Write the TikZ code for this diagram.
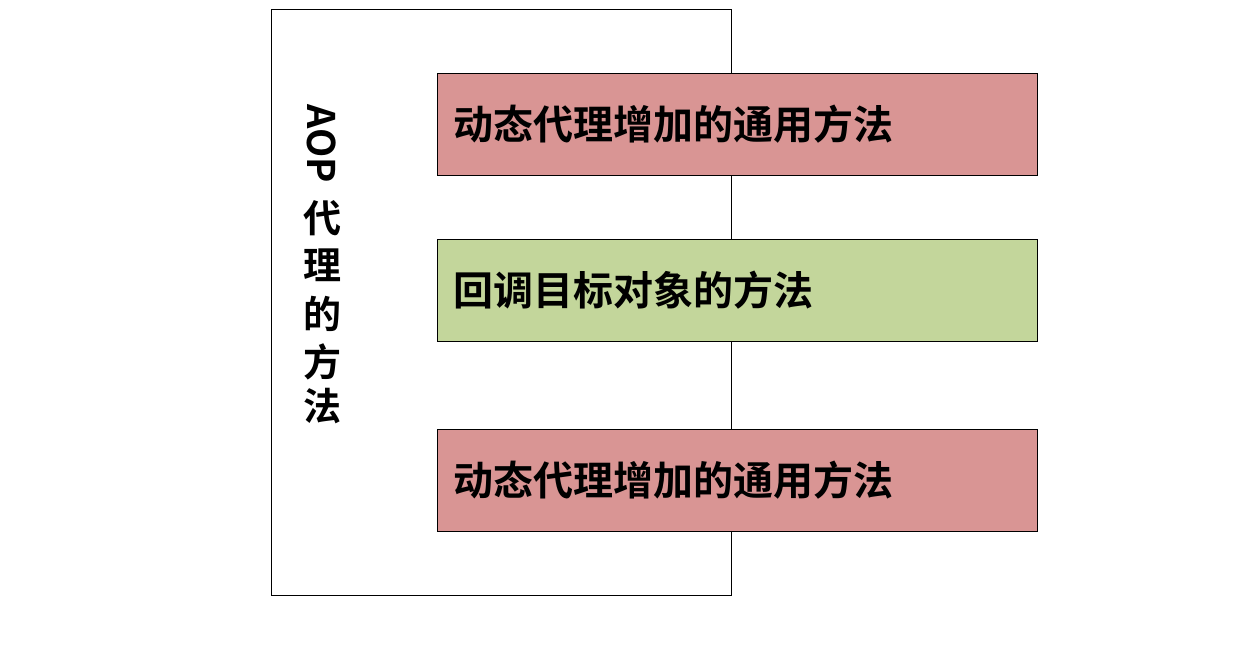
\documentclass[tikz,border=0pt]{standalone}
\usepackage{fontspec}
\newfontfamily\cjk{Noto Sans CJK SC}[BoldFont={* Bold}]
\begin{document}
\begin{tikzpicture}[x=1pt,y=-1pt,
  box/.style={draw=black,line width=0.8pt,minimum width=600pt,minimum height=102pt,anchor=north west,inner sep=0pt},
  lbl/.style={font=\cjk\bfseries\fontsize{40}{44}\selectfont,anchor=west,inner sep=0pt},
  vch/.style={font=\cjk\bfseries\fontsize{38}{42}\selectfont,inner sep=0pt}]
\useasboundingbox (0,0) rectangle (1252,656);
\node[draw=black,line width=0.8pt,minimum width=460pt,minimum height=586pt,anchor=north west,inner sep=0pt] (outer) at (271,9) {};
\node[box,fill={rgb,255:red,217;green,149;blue,148}] (b1) at (437,73) {};
\node[box,fill={rgb,255:red,195;green,214;blue,155}] (b2) at (437,239) {};
\node[box,fill={rgb,255:red,217;green,149;blue,148}] (b3) at (437,429) {};
\node[lbl] (t1) at (453,124) {动态代理增加的通用方法};
\node[lbl] (t2) at (453,290) {回调目标对象的方法};
\node[lbl] (t3) at (453,480) {动态代理增加的通用方法};
\node[vch,rotate=-90] (v0) at (322,144) {AOP};
\node[vch] (v1) at (322,218) {代};
\node[vch] (v2) at (322,265) {理};
\node[vch] (v3) at (322,314) {的};
\node[vch] (v4) at (322,362) {方};
\node[vch] (v5) at (322,406) {法};
\end{tikzpicture}
\end{document}
